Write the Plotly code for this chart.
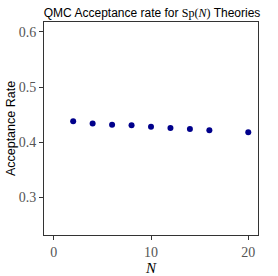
import plotly.graph_objects as go

N = [2, 4, 6, 8, 10, 12, 14, 16, 20]
acc = [0.438, 0.434, 0.432, 0.431, 0.428, 0.426, 0.424, 0.422, 0.418]
xticks = [0, 10, 20]
yticks = [0.3, 0.4, 0.5, 0.6]

serif = "Liberation Serif"
sans = "Liberation Sans"

fig = go.Figure()
fig.add_trace(go.Scatter(x=N, y=acc, mode="markers",
                         marker=dict(color="#00008B", size=6)))

axis_common = dict(showgrid=False, zeroline=False, showline=True, mirror=True,
                   linecolor="#333333", linewidth=1, ticks="outside", ticklen=4,
                   tickcolor="#333333", automargin=False,
                   tickfont=dict(family=serif, size=14, color="#555555"))

fig.update_layout(
    width=278, height=276,
    margin=dict(l=44, r=20, t=22, b=41),
    plot_bgcolor="white", paper_bgcolor="white",
    showlegend=False,
    title=dict(text="QMC Acceptance rate for <span style=\"font-family:Liberation Serif\">Sp(<i>N</i>)</span> Theories",
               x=0.547, xanchor="center", y=0.952, yanchor="middle", automargin=False,
               font=dict(family=sans, size=12, color="black")),
    xaxis=dict(range=[-1, 21], tickvals=xticks, ticktext=[str(v) for v in xticks],
               title=dict(text="<i>N</i>", font=dict(family=serif, size=15, color="black"), standoff=2),
               **axis_common),
    yaxis=dict(range=[0.232, 0.618], tickvals=yticks, ticktext=[f"{v:.1f}" for v in yticks],
               title=dict(text="Acceptance Rate", font=dict(family=sans, size=12.5, color="black"), standoff=0),
               **axis_common),
)

fig.write_html("out.html", config={"displayModeBar": False},
               post_script="document.body.style.margin='0';")
